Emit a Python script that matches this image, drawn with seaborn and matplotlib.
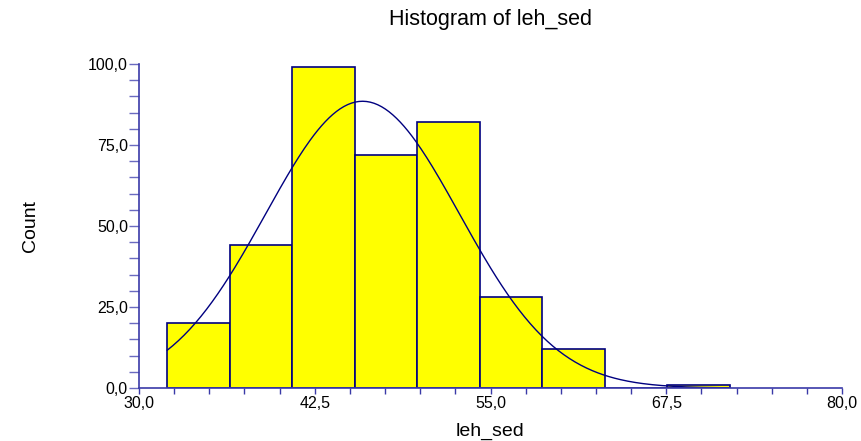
import numpy as np
import pandas as pd
import matplotlib
matplotlib.use("Agg")
import matplotlib.pyplot as plt
from matplotlib.ticker import MultipleLocator, FuncFormatter
import seaborn as sns

# histogram bins (9 bins of equal width from 32 to 72)
bin_edges = [32.0, 36.44, 40.89, 45.33, 49.78, 54.22, 58.67, 63.11, 67.56, 72.0]
counts = [20, 44, 99, 72, 82, 28, 12, 0, 1]

# fitted normal curve (peak height, mean, sd)
curve_peak = 88.5
curve_mean = 45.9
curve_sd = 6.9

x_ticks = [30.0, 42.5, 55.0, 67.5, 80.0]
y_ticks = [0.0, 25.0, 50.0, 75.0, 100.0]

sns.set_style("ticks")
plt.rcParams['font.family'] = ['Liberation Sans', 'DejaVu Sans']
plt.rcParams['text.color'] = 'black'
plt.rcParams['axes.labelcolor'] = 'black'

navy = "#000080"
axis_col = "#3a3aa8"

mids = [(a + b) / 2 for a, b in zip(bin_edges[:-1], bin_edges[1:])]
df = pd.DataFrame({"leh_sed": mids, "n": counts})

fig = plt.figure(figsize=(8.62, 4.41), dpi=100)
ax = fig.add_axes([139 / 862, 1 - 388 / 441, 703 / 862, 324 / 441])

sns.histplot(data=df, x="leh_sed", weights="n", bins=bin_edges, stat="count",
             color="#ffff00", edgecolor=navy, linewidth=1.2, alpha=1, ax=ax)

xs = np.linspace(bin_edges[0], bin_edges[-1], 300)
curve = pd.DataFrame({"x": xs,
                      "y": curve_peak * np.exp(-0.5 * ((xs - curve_mean) / curve_sd) ** 2)})
sns.lineplot(data=curve, x="x", y="y", color=navy, linewidth=1.0, ax=ax)

ax.set_xlim(30, 80)
ax.set_ylim(0, 100)
ax.set_xticks(x_ticks)
ax.set_yticks(y_ticks)
ax.xaxis.set_minor_locator(MultipleLocator(2.5))
ax.yaxis.set_minor_locator(MultipleLocator(5))
fmt = FuncFormatter(lambda v, p: f"{v:.1f}".replace(".", ","))
ax.xaxis.set_major_formatter(fmt)
ax.yaxis.set_major_formatter(fmt)

sns.despine(ax=ax)
for s in ["left", "bottom"]:
    ax.spines[s].set_color(axis_col)
    ax.spines[s].set_linewidth(1.2)
ax.tick_params(axis="y", which="both", length=7, width=1, color="#6a6ac0",
               labelsize=11.5, pad=1, labelcolor="black")
ax.tick_params(axis="x", which="both", length=4, width=1, color=axis_col,
               labelsize=11.5, pad=2, labelcolor="black")

ax.set_xlabel("leh_sed", fontsize=14, color="black")
ax.set_ylabel("Count", fontsize=14, color="black")
ax.xaxis.set_label_coords(0.5, -0.135)
ax.xaxis.label.set_va("center")
ax.yaxis.set_label_coords(-0.155, 0.5)
ax.yaxis.label.set_va("center")

fig.text((139 + 842) / 2 / 862, 1 - 20 / 441, "Histogram of leh_sed",
         ha="center", va="center", fontsize=15.5, color="black")

fig.savefig("out.png", dpi=100)
